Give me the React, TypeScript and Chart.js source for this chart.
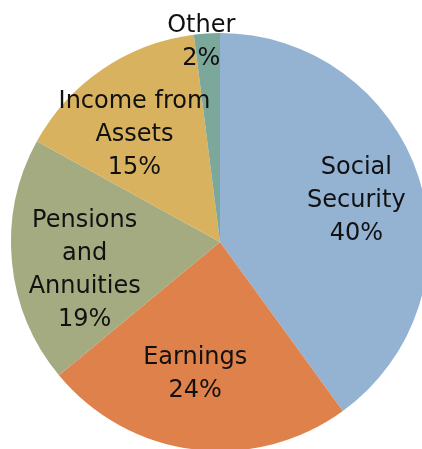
import React, { useEffect, useRef } from "react";
import { Chart, registerables } from "chart.js";

Chart.register(...registerables);

const categories = ["Social Security", "Earnings", "Pensions and Annuities", "Income from Assets", "Other"];
const labelLines = [["Social", "Security"], ["Earnings"], ["Pensions", "and", "Annuities"], ["Income from", "Assets"], ["Other"]];
const shares = [40, 24, 19, 15, 2];
const colors = ["#94b3d3", "#de814a", "#a4ab80", "#d9b25f", "#7ca79b"];
// label placement: radial fraction of radius and pixel nudge
const labelRadial = [0.686, 0.64, 0.66, 0.66, 0.97];
const labelNudge = [[0, 3], [-8, 0], [2, 15], [-8, 7], [-6, 3]];

const labelPlugin = {
  id: "pieLabels",
  afterDatasetsDraw(chart: any) {
    const ctx = chart.ctx;
    const meta = chart.getDatasetMeta(0);
    ctx.save();
    ctx.font = "24px 'DejaVu Sans'";
    ctx.fillStyle = "#111";
    ctx.textAlign = "center";
    ctx.textBaseline = "middle";
    const lh = 33;
    meta.data.forEach((arc: any, i: number) => {
      const p = arc.getProps(["x", "y", "startAngle", "endAngle", "outerRadius"], true);
      const mid = (p.startAngle + p.endAngle) / 2;
      const r = p.outerRadius * labelRadial[i];
      const cx = p.x + Math.cos(mid) * r + labelNudge[i][0];
      const cy = p.y + Math.sin(mid) * r + labelNudge[i][1];
      const lines = [...labelLines[i], shares[i] + "%"];
      const y0 = cy - ((lines.length - 1) * lh) / 2;
      lines.forEach((t, k) => ctx.fillText(t, cx, y0 + k * lh));
    });
    ctx.restore();
  },
};

export default function App() {
  const ref = useRef<HTMLCanvasElement>(null);
  useEffect(() => {
    const chart = new Chart(ref.current!, {
      type: "pie",
      data: {
        labels: categories,
        datasets: [{ data: shares, backgroundColor: colors, borderWidth: 0 }],
      },
      options: {
        animation: false,
        responsive: false,
        layout: { padding: { left: 11, top: 33, right: 0, bottom: 0 } },
        plugins: { legend: { display: false }, tooltip: { enabled: false } },
      },
      plugins: [labelPlugin],
    });
    return () => chart.destroy();
  }, []);
  return (
    <div style={{ position: "fixed", left: 0, top: 0, width: 422, height: 449, overflow: "hidden", background: "#fff" }}>
      <canvas ref={ref} width={429} height={451} style={{ position: "absolute", left: 0, top: 0, width: 429, height: 451 }} />
    </div>
  );
}
